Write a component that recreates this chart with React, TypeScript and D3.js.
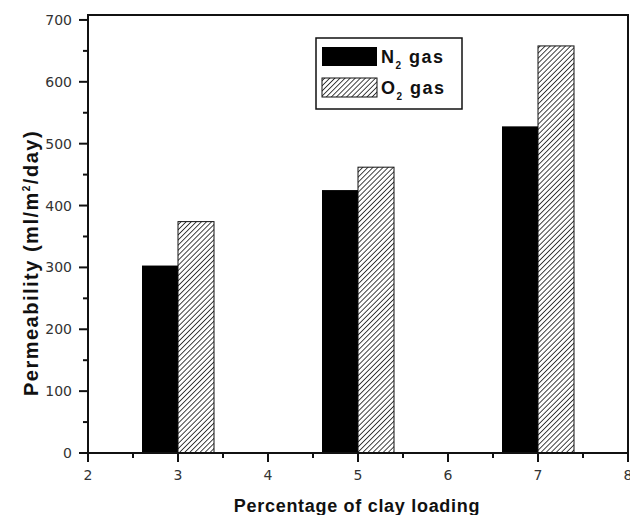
import React from "react";
import * as d3 from "d3";

const categories = [3, 5, 7];
const n2Values = [303, 425, 528];
const o2Values = [374, 462, 658];
const yTicks = [0, 100, 200, 300, 400, 500, 600, 700];
const xTicks = [2, 3, 4, 5, 6, 7, 8];

const W = 630, H = 515;
const left = 88, right = 628, top = 15, bottom = 453;

export default function App() {
  const x = d3.scaleLinear().domain([2, 8]).range([left, right]);
  const y = d3.scaleLinear().domain([0, 708]).range([bottom, top]);
  const barW = 0.4;
  const yMinor = d3.range(50, 700, 100);
  const xMinor = d3.range(2.5, 8, 1);
  const tickFont = "DejaVu Sans, Verdana, sans-serif";
  const boldFont = "Liberation Sans, Arial, sans-serif";
  return (
    <svg width={W} height={H} style={{ position: "absolute", left: 0, top: 0, background: "#fff" }}>
      <defs>
        <pattern id="hatch" patternUnits="userSpaceOnUse" width="3.6" height="3.6" patternTransform="rotate(45)">
          <rect width="3.6" height="3.6" fill="#fff" />
          <line x1="0" y1="0" x2="0" y2="3.6" stroke="#222" strokeWidth="1.7" />
        </pattern>
      </defs>
      {categories.map((c, i) => (
        <g key={c}>
          <rect x={x(c - barW)} y={y(n2Values[i])} width={x(c) - x(c - barW)} height={y(0) - y(n2Values[i])} fill="#000" />
          <rect x={x(c)} y={y(o2Values[i])} width={x(c + barW) - x(c)} height={y(0) - y(o2Values[i])} fill="url(#hatch)" stroke="#111" strokeWidth={1} />
        </g>
      ))}
      <rect x={left} y={top} width={right - left} height={bottom - top} fill="none" stroke="#111" strokeWidth={2} />
      {yTicks.map((t) => (
        <g key={t}>
          <line x1={left - 9} x2={left} y1={y(t)} y2={y(t)} stroke="#111" strokeWidth={2} />
          <text x={left - 16} y={y(t)} dy="0.36em" textAnchor="end" fontFamily={tickFont} fontSize={14} fill="#333">{t}</text>
        </g>
      ))}
      {yMinor.map((t) => (
        <line key={t} x1={left - 5} x2={left} y1={y(t)} y2={y(t)} stroke="#111" strokeWidth={2} />
      ))}
      {xTicks.map((t) => (
        <g key={t}>
          <line x1={x(t)} x2={x(t)} y1={bottom} y2={bottom + 9} stroke="#111" strokeWidth={2} />
          <text x={x(t)} y={bottom + 27} textAnchor="middle" fontFamily={tickFont} fontSize={14} fill="#333">{t}</text>
        </g>
      ))}
      {xMinor.map((t) => (
        <line key={t} x1={x(t)} x2={x(t)} y1={bottom} y2={bottom + 5} stroke="#111" strokeWidth={2} />
      ))}
      <text x={357} y={512} textAnchor="middle" fontFamily={boldFont} fontWeight="bold" fontSize={18} letterSpacing={0.7} fill="#111">Percentage of clay loading</text>
      <text transform={`translate(38,263) rotate(-90)`} textAnchor="middle" fontFamily={boldFont} fontWeight="bold" fontSize={20} letterSpacing={1.5} fill="#111">
        Permeability (ml/m<tspan dy="-8" fontSize={10}>2</tspan><tspan dy="8">/day)</tspan>
      </text>
      <g>
        <rect x={316} y={38} width={146} height={71} fill="#fff" stroke="#111" strokeWidth={1.5} />
        <rect x={322} y={47} width={55} height={19} fill="#000" />
        <rect x={322} y={78} width={55} height={19} fill="url(#hatch)" stroke="#111" strokeWidth={1} />
        <text x={381} y={63} fontFamily={boldFont} fontWeight="bold" fontSize={18} letterSpacing={1.5} fill="#111">
          N<tspan dy="6" fontSize={10}>2</tspan><tspan dy="-6"> gas</tspan>
        </text>
        <text x={381} y={94} fontFamily={boldFont} fontWeight="bold" fontSize={18} letterSpacing={1.5} fill="#111">
          O<tspan dy="6" fontSize={10}>2</tspan><tspan dy="-6"> gas</tspan>
        </text>
      </g>
    </svg>
  );
}
